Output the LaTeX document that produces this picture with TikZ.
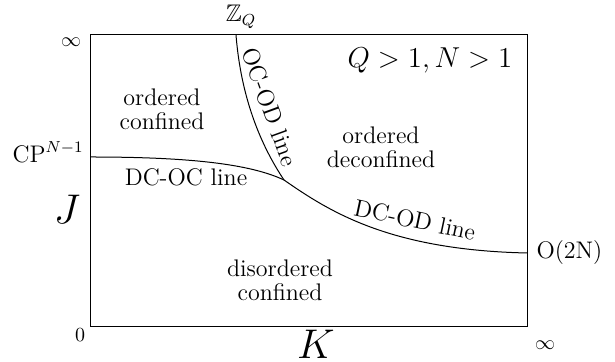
\documentclass[tikz,border=0pt]{standalone}
\usepackage{amssymb}
\newcommand{\ph}[1]{\mathrm{#1}}

\begin{document}
\begin{tikzpicture}[x=0.5pt, y=0.5pt, line width=0.5pt,
  region/.style={font=\fontsize{12}{12}\selectfont, align=center, inner sep=0pt},
  endlabel/.style={font=\fontsize{12}{14}\selectfont, inner sep=0pt},
  axislabel/.style={font=\huge, inner sep=0pt},
  tick/.style={font=\normalsize, inner sep=0pt}]
  \useasboundingbox (0,0) rectangle (615,362);
  % corners and end points of the transition lines
  \coordinate (BL) at (90,35);
  \coordinate (TR) at (527,327);
  \coordinate (zq) at (236,327);
  \coordinate (cp) at (90,205);
  \coordinate (on) at (527,109);
  \coordinate (P) at (284,182);
  \draw (BL) rectangle (TR);
  \draw (cp) .. controls (190,205) and (250,198) .. (P);
  \draw (zq) .. controls (241,265) and (260,218) .. (P);
  \draw (P) .. controls (330,150) and (390,112) .. (on);
  % end points
  \node[tick] (inftop) at (71,320) {$\infty$};
  \node[tick] (zero) at (80,27) {$0$};
  \node[tick] (infright) at (545,17) {$\infty$};
  \node[endlabel, anchor=base east] (cplab) at (84,199) {$\ph{CP}^{N-1}$};
  \node[endlabel] (zqlab) at (241,345) {$\mathbb{Z}_Q$};
  \node[endlabel, anchor=west] (onlab) at (536,109) {$\ph{O(2N)}$};
  \node[axislabel] (jlab) at (67,153) {$J$};
  \node[axislabel] (klab) at (316,18) {$K$};
  \node[font=\fontsize{15}{18}\selectfont, inner sep=0pt] (cond) at (430,302) {$Q>1, N>1$};
  % phases
  \node[region] (oc) at (162,253) {ordered\\confined};
  \node[region] (od) at (381,215) {ordered\\deconfined};
  \node[region] (dc) at (280,82) {disordered\\confined};
  % lines
  \node[region] (dcoc) at (186,185) {DC-OC line};
  \node[region, rotate=-70] (ocod) at (270,255) {OC-OD line};
  \node[region, rotate=-12] (dcod) at (415,142) {DC-OD line};
\end{tikzpicture}
\end{document}
